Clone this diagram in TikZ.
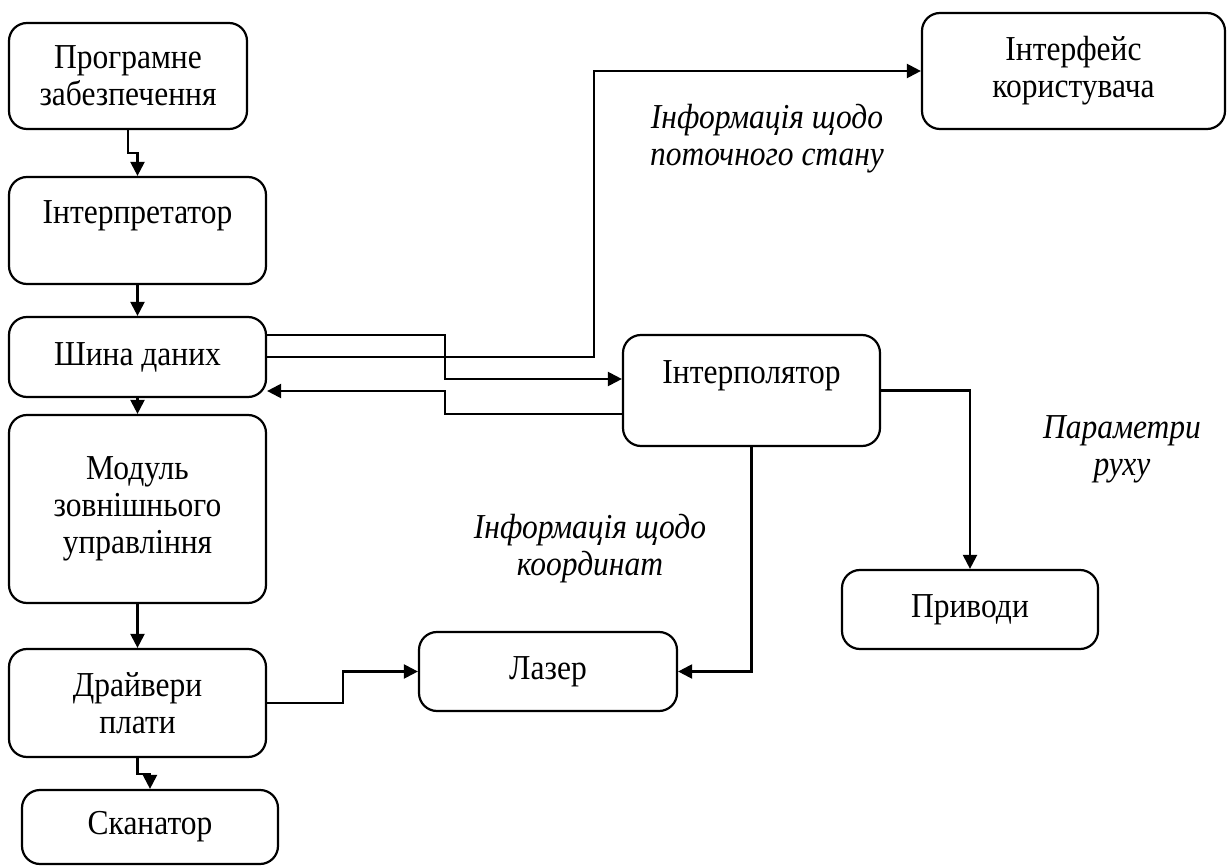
\documentclass[tikz,border=0pt]{standalone}
\usepackage{fontspec}
\setmainfont[FakeStretch=0.9]{Liberation Serif}
\usetikzlibrary{arrows.meta}

\begin{document}
\begin{tikzpicture}[
		x=0.5pt, y=-0.5pt,
		every node/.style={font=\fontsize{17.5}{18.5}\selectfont},
		block/.style={draw, rounded corners=9pt, line width=1.1pt, align=center, inner sep=2pt, minimum width=128.5pt},
		note/.style={align=center, font=\fontsize{17.5}{18.5}\selectfont\itshape},
		conn/.style={line width=1.1pt, -{Triangle[length=7pt,width=7pt]}}
		]
		\useasboundingbox (0,0) rectangle (1227,866);
		\node[block, minimum width=119pt, minimum height=53pt] (prog) at (128,76) {Програмне\\забезпечення};
		\node[block, minimum height=53.5pt] (interp) at (137.5,230.5) {Інтерпретатор\\\phantom{І}};
		\node[block, minimum height=40pt] (bus) at (137.5,357) {Шина даних};
		\node[block, minimum height=94pt] (extmod) at (137.5,509) {Модуль\\зовнішнього\\управління};
		\node[block, minimum height=54pt] (drv) at (137.5,703) {Драйвери\\плати};
		\node[block, minimum width=128pt, minimum height=37pt] (scan) at (150,827) {Сканатор};
		\node[block, minimum width=151.5pt, minimum height=58pt] (ui) at (1073.5,71) {Інтерфейс\\користувача};
		\node[block, minimum height=55.5pt] (interpol) at (751.5,390.5) {Інтерполятор\\\phantom{І}};
		\node[block, minimum width=128pt, minimum height=39.5pt] (drives) at (970,609.5) {Приводи};
		\node[block, minimum width=129pt, minimum height=39.5pt] (laser) at (548,671.5) {Лазер};

		\node[note] (state) at (767,139) {Інформація щодо\\поточного стану};
		\node[note] (coords) at (590,549) {Інформація щодо\\координат};
		\node[note] (motion) at (1122,449) {Параметри\\руху};

		\draw[conn] (prog.south) -- ++(0,23) -| (interp.north);
		\draw[conn] (interp) -- (bus);
		\draw[conn] (bus) -- (extmod);
		\draw[conn] (extmod) -- (drv);
		\draw[conn] (drv.south) -- ++(0,16) -| (scan.north);
		\draw[conn] (drv.east) -- ++(76,0) |- (laser.west);
		\draw[conn] (bus.east) -- ++(327,0) |- (ui.west);
		\draw[conn] (bus.east |- 0,335) -| (445,379) -- (interpol.west |- 0,379);
		\draw[conn] (interpol.west |- 0,414) -| (445,391) -- (bus.east |- 0,391);
		\draw[conn] (interpol.south) |- (laser.east);
		\draw[conn] (interpol.east) -| (drives.north);
\end{tikzpicture}
\end{document}
